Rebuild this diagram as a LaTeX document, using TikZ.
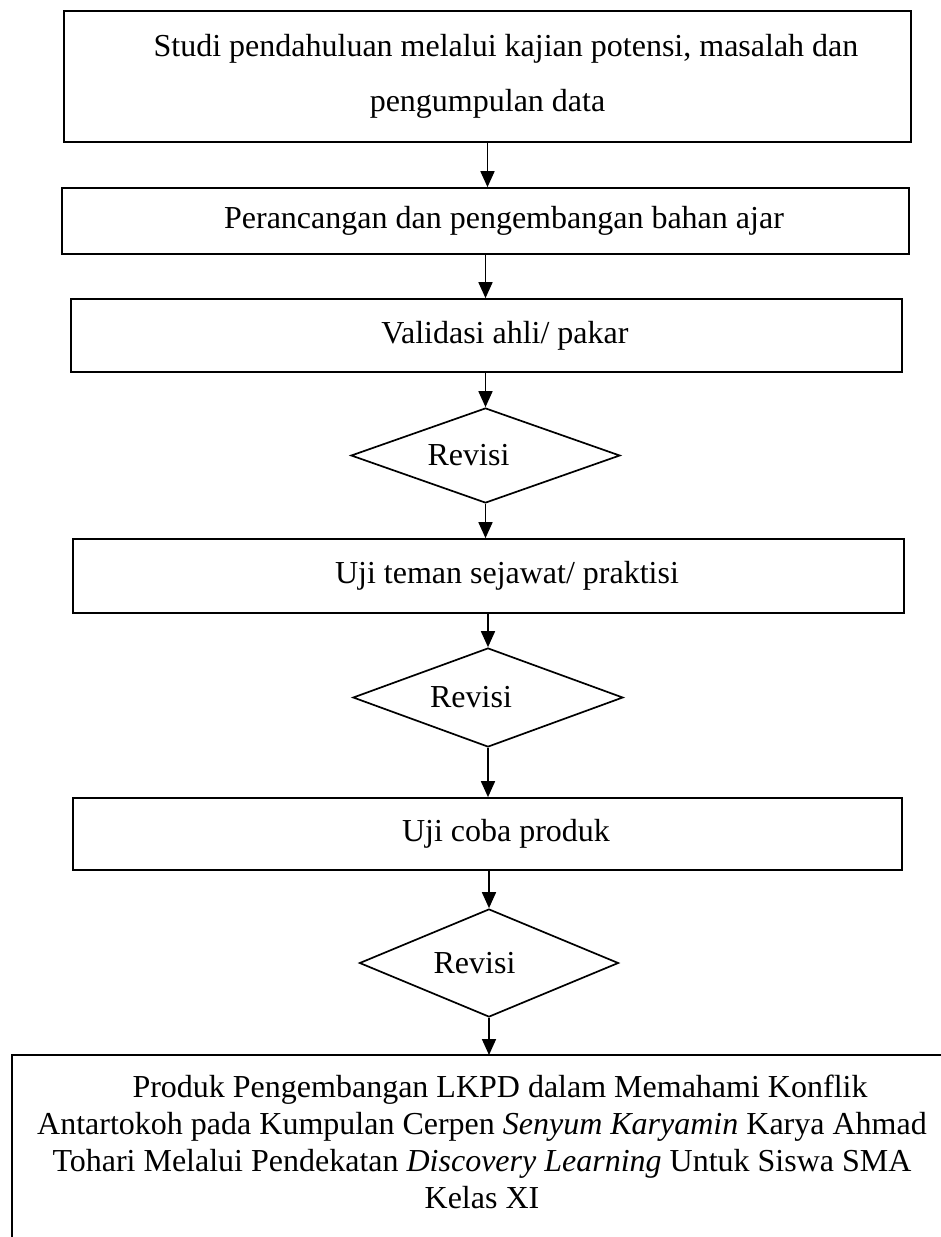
\documentclass[tikz,border=0pt]{standalone}
\usepackage{fontspec}
\setmainfont{Liberation Serif}
\usetikzlibrary{shapes.geometric,arrows.meta}
\begin{document}
\begin{tikzpicture}[x=1pt,y=-1pt,
  every node/.style={font=\fontsize{32}{36.8}\selectfont},
  stepbox/.style={draw,line width=1.7pt,rectangle,inner sep=0pt,align=center},
  revbox/.style={draw,line width=1.7pt,diamond,inner sep=0pt,shape aspect=2.7},
  arr/.style={line width=1.7pt,-{Triangle[length=16pt,width=14pt]}}]
\useasboundingbox (0,0) rectangle (941,1237);
\node[stepbox,minimum width=847pt,minimum height=131pt,font=\fontsize{32}{55}\selectfont] (b1) at (487.5,76.5)
  {\hspace*{37pt}Studi pendahuluan melalui kajian potensi, masalah dan\\pengumpulan data};
\node[stepbox,minimum width=847pt,minimum height=66pt] (b2) at (485.5,221)
  {\hspace*{37pt}Perancangan dan pengembangan bahan ajar};
\node[stepbox,minimum width=831pt,minimum height=73pt] (b3) at (486.5,335.5)
  {\hspace*{37pt}Validasi ahli/ pakar};
\node[revbox,minimum width=269pt,minimum height=95pt] (d1) at (485.5,455.5)
  {Revisi\hspace*{34pt}};
\node[stepbox,minimum width=831pt,minimum height=74pt] (b4) at (488.5,576)
  {\hspace*{37pt}Uji teman sejawat/ praktisi};
\node[revbox,minimum width=270pt,minimum height=99pt] (d2) at (488,697.5)
  {Revisi\hspace*{34pt}};
\node[stepbox,minimum width=829pt,minimum height=72pt] (b5) at (487.5,834)
  {\hspace*{37pt}Uji coba produk};
\node[revbox,minimum width=259pt,minimum height=108pt,shape aspect=2.4] (d3) at (489,963)
  {Revisi\hspace*{29pt}};
\draw[line width=1.7pt] (941,1055) -- (12,1055) -- (12,1240);
\coordinate (b6top) at (489,1055);
\node[align=center,inner sep=0pt] (b6) at (482,1142)
  {\hspace*{36pt}Produk Pengembangan LKPD dalam Memahami Konflik\\
   Antartokoh pada Kumpulan Cerpen \textit{Senyum Karyamin} Karya Ahmad\\
   Tohari Melalui Pendekatan \textit{Discovery Learning} Untuk Siswa SMA\\
   Kelas XI};
\draw[arr] (b1.south) -- (b1.south |- b2.north);
\draw[arr] (b2.south) -- (b2.south |- b3.north);
\draw[arr] (b3.south -| d1.north) -- (d1.north);
\draw[arr] (d1.south) -- (d1.south |- b4.north);
\draw[arr] (b4.south -| d2.north) -- (d2.north);
\draw[arr] (d2.south) -- (d2.south |- b5.north);
\draw[arr] (b5.south -| d3.north) -- (d3.north);
\draw[arr] (d3.south) -- (b6top);
\end{tikzpicture}
\end{document}
